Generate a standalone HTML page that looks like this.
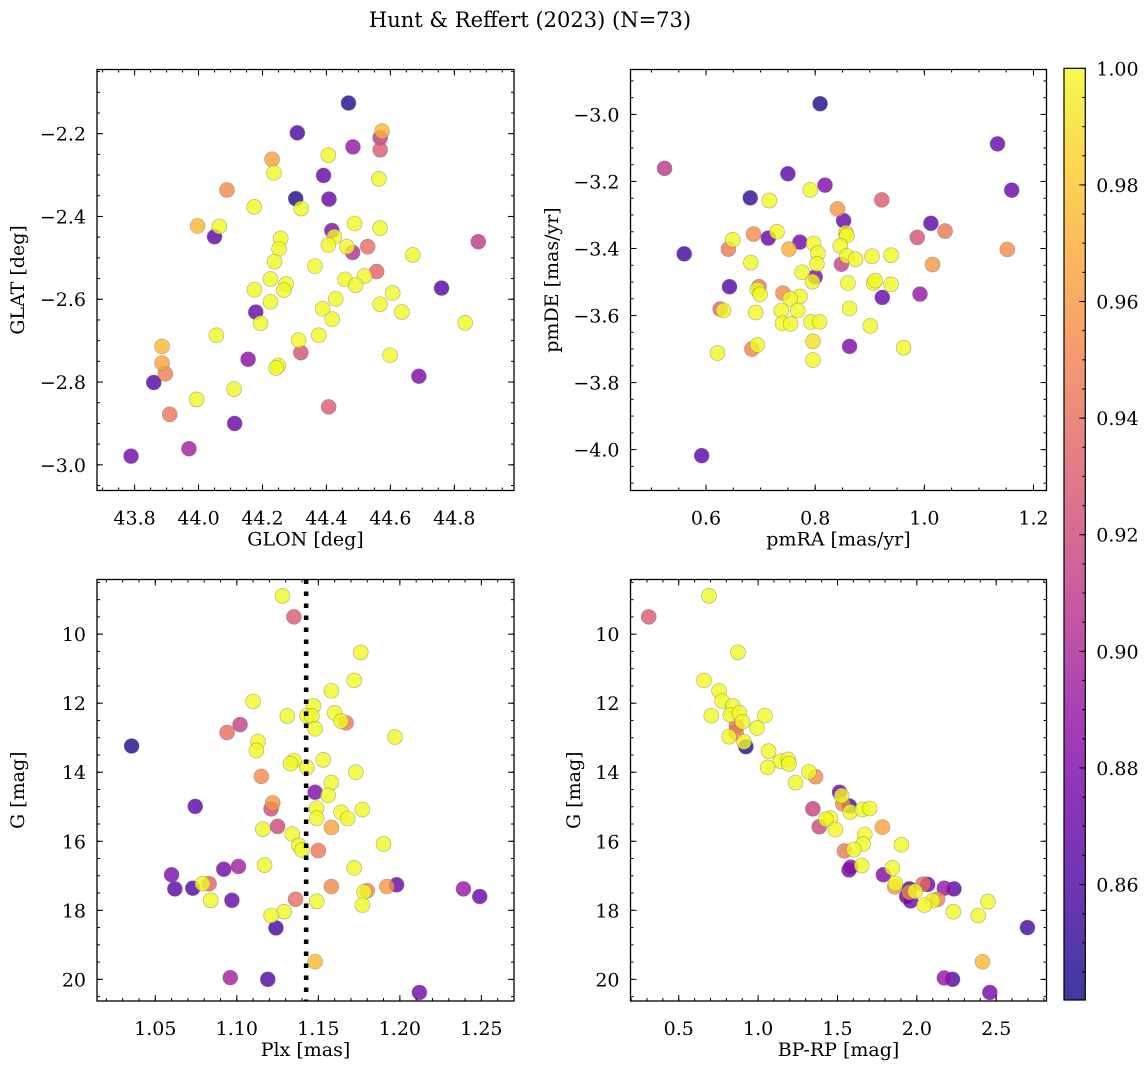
<!DOCTYPE html>
<html><head><meta charset="utf-8">
<style>
html,body{margin:0;padding:0;background:#fff;}
svg text{font-family:"DejaVu Serif","Liberation Serif",serif;fill:#000;}
</style></head>
<body>
<svg id="fig" width="1148" height="1068" viewBox="0 0 1148 1068" xmlns="http://www.w3.org/2000/svg">
<text x="530" y="27" font-size="21" text-anchor="middle">Hunt &amp; Reffert (2023) (N=73)</text>
</svg>
<script>
// ---- Panel 1: GLON / GLAT ----
const glonVals=[44.469,44.309,44.574,44.568,44.568,44.483,44.230,44.236,44.406,44.391,44.564,44.089,44.304,44.408,44.321,44.174,43.997,44.065,44.05,44.488,44.568,44.417,44.425,44.406,44.464,44.482,44.529,44.875,44.257,44.252,44.238,44.670,44.364,44.557,44.458,44.519,44.491,44.225,44.274,44.267,44.175,44.760,44.607,44.429,44.225,44.388,44.568,44.636,44.179,44.194,44.418,44.834,44.056,44.376,44.313,43.886,44.32,44.155,43.886,44.25,44.243,44.599,43.896,43.860,44.689,44.111,43.994,44.407,43.910,44.113,43.970,43.789];
const glatVals=[-2.126,-2.198,-2.194,-2.210,-2.239,-2.232,-2.262,-2.295,-2.252,-2.301,-2.309,-2.336,-2.357,-2.358,-2.381,-2.377,-2.423,-2.424,-2.449,-2.417,-2.428,-2.434,-2.449,-2.469,-2.473,-2.487,-2.473,-2.461,-2.453,-2.478,-2.509,-2.493,-2.520,-2.533,-2.552,-2.544,-2.566,-2.551,-2.563,-2.578,-2.577,-2.573,-2.585,-2.599,-2.606,-2.623,-2.612,-2.631,-2.631,-2.658,-2.648,-2.657,-2.687,-2.687,-2.699,-2.714,-2.729,-2.745,-2.754,-2.760,-2.766,-2.735,-2.780,-2.801,-2.786,-2.817,-2.842,-2.860,-2.878,-2.900,-2.961,-2.979];
const p1Prob=[0.845,0.86,0.975,0.91,0.93,0.89,0.965,1,1,0.87,1,0.955,0.845,0.87,1,1,0.975,1,0.865,1,1,0.88,1,1,1,0.905,0.94,0.91,1,1,1,1,1,0.935,1,1,1,1,1,1,1,0.86,1,1,1,1,1,1,0.87,1,1,1,1,1,1,0.975,0.925,0.885,0.965,1,1,1,0.95,0.86,0.88,1,1,0.93,0.945,0.87,0.895,0.875];
const p1XTicks=[43.8,44.0,44.2,44.4,44.6,44.8];
const p1YTicks=[-2.2,-2.4,-2.6,-2.8,-3.0];

// ---- Panel 2: pmRA / pmDE ----
const pmraVals=[0.809,0.524,1.134,1.160,0.750,0.818,0.681,0.791,0.716,0.922,0.841,0.852,1.012,1.038,0.987,0.560,0.687,0.649,0.714,0.730,0.641,0.752,0.772,0.797,0.805,0.856,0.858,0.846,0.858,0.874,0.904,0.939,0.848,0.803,1.152,1.015,0.682,0.776,0.800,0.795,0.860,0.907,0.910,0.939,0.643,0.697,0.694,0.699,0.741,0.772,0.754,0.923,0.992,0.626,0.632,0.691,0.738,0.768,0.863,0.740,0.755,0.792,0.808,0.901,0.796,0.863,0.684,0.694,0.962,0.621,0.796,0.592];
const pmdeVals=[-2.968,-3.161,-3.088,-3.226,-3.177,-3.211,-3.249,-3.225,-3.257,-3.255,-3.282,-3.317,-3.325,-3.348,-3.367,-3.416,-3.357,-3.374,-3.369,-3.350,-3.402,-3.402,-3.381,-3.385,-3.414,-3.353,-3.361,-3.392,-3.422,-3.432,-3.423,-3.420,-3.447,-3.446,-3.403,-3.448,-3.442,-3.471,-3.485,-3.499,-3.503,-3.503,-3.496,-3.507,-3.514,-3.514,-3.523,-3.537,-3.533,-3.543,-3.550,-3.546,-3.536,-3.581,-3.585,-3.591,-3.585,-3.585,-3.579,-3.623,-3.625,-3.619,-3.619,-3.631,-3.677,-3.692,-3.700,-3.688,-3.696,-3.712,-3.733,-4.018];
const p2Prob=[0.845,0.91,0.87,0.87,0.865,0.88,0.85,1,1,0.93,0.96,0.87,0.865,0.945,0.925,0.855,0.955,1,0.87,1,0.945,0.97,0.875,1,1,0.99,1,1,1,1,1,1,0.915,1,0.955,0.96,1,1,0.88,1,1,1,1,1,0.86,0.945,1,1,0.955,1,1,0.87,0.89,0.935,1,1,1,1,1,1,1,1,1,1,0.99,0.88,0.95,1,1,1,1,0.865];
const p2XTicks=[0.6,0.8,1.0,1.2];
const p2YTicks=[-3.0,-3.2,-3.4,-3.6,-3.8,-4.0];

// ---- Panel 3: Plx / G ----
const plxVals=[1.128,1.135,1.176,1.172,1.158,1.110,1.147,1.131,1.143,1.146,1.160,1.167,1.164,1.148,1.102,1.094,1.197,1.113,1.112,1.0355,1.135,1.133,1.153,1.143,1.173,1.115,1.158,1.148,1.156,1.0745,1.122,1.121,1.149,1.177,1.164,1.168,1.149,1.125,1.158,1.116,1.134,1.138,1.140,1.150,1.190,1.117,1.172,1.101,1.092,1.060,1.062,1.073,1.083,1.079,1.158,1.192,1.198,1.180,1.178,1.239,1.249,1.084,1.097,1.136,1.149,1.177,1.129,1.121,1.124,1.148,1.096,1.119,1.212];
const gPlxVals=[8.89,9.50,10.53,11.34,11.64,11.95,12.08,12.37,12.36,12.37,12.28,12.57,12.52,12.74,12.62,12.85,12.98,13.11,13.37,13.24,13.66,13.75,13.64,13.86,14.00,14.12,14.30,14.58,14.67,14.99,14.89,15.06,15.04,15.08,15.16,15.34,15.33,15.57,15.60,15.65,15.79,16.12,16.25,16.27,16.08,16.69,16.77,16.73,16.81,16.97,17.38,17.36,17.23,17.23,17.31,17.31,17.26,17.43,17.47,17.38,17.60,17.71,17.71,17.68,17.74,17.85,18.04,18.15,18.51,19.49,19.95,20.00,20.38];
const p3Prob=[1,0.93,1,1,1,1,1,1,1,1,1,0.945,1,1,0.915,0.94,1,1,1,0.845,1,1,1,1,1,0.955,1,0.88,1,0.865,0.96,0.92,1,1,1,1,1,0.92,0.965,1,1,1,1,0.945,1,1,1,0.895,0.875,0.88,0.865,0.86,0.935,1,0.955,0.96,0.87,0.95,1,0.89,0.87,1,0.87,0.94,1,1,1,1,0.855,0.975,0.895,0.86,0.875];
const plxRef=[1.1425];
const p3XTicks=[1.05,1.10,1.15,1.20,1.25];
const gTicks=[10,12,14,16,18,20];

// ---- Panel 4: BP-RP / G ----
const bprpVals=[0.691,0.311,0.873,0.659,0.754,0.773,0.840,0.705,0.825,0.882,0.902,1.043,0.863,0.861,0.993,0.817,0.923,0.911,1.066,1.141,1.190,1.194,1.060,1.320,1.362,1.236,1.513,1.527,1.534,1.575,1.580,1.657,1.703,1.345,1.456,1.427,1.487,1.385,1.783,1.672,1.661,1.903,1.544,1.603,1.653,1.584,1.573,1.846,1.789,1.861,1.865,1.953,2.039,2.068,2.173,2.234,1.953,1.989,1.936,1.961,2.131,2.100,2.047,2.448,2.230,2.387,2.697,2.414,2.173,2.225,2.460];
const gCmdVals=[8.89,9.50,10.53,11.34,11.64,11.94,12.08,12.36,12.34,12.28,12.54,12.36,12.66,12.85,12.72,12.97,13.26,13.12,13.39,13.68,13.63,13.76,13.86,13.99,14.13,14.30,14.58,14.68,14.92,14.98,15.15,15.08,15.05,15.06,15.33,15.36,15.66,15.58,15.59,15.80,16.08,16.10,16.28,16.24,16.70,16.75,16.83,16.77,16.97,17.32,17.22,17.38,17.24,17.25,17.36,17.38,17.48,17.45,17.60,17.73,17.68,17.72,17.85,17.75,18.04,18.15,18.50,19.49,19.96,20.00,20.38];
const p4Prob=[1,0.93,1,1,1,1,1,1,1,1,1,1,0.94,0.945,1,1,0.845,1,1,1,1,1,1,1,0.955,1,0.87,1,0.955,0.86,1,1,1,0.915,1,1,1,0.92,0.965,1,1,1,0.945,1,1,0.885,0.87,1,0.88,0.96,1,0.86,0.94,0.87,0.89,0.865,0.955,1,0.87,0.875,0.95,1,1,1,1,1,0.855,0.975,0.89,0.86,0.875];
const p4XTicks=[0.5,1.0,1.5,2.0,2.5];

const cbTicks=[1.00,0.98,0.96,0.94,0.92,0.90,0.88,0.86];

const VMIN=0.8402, VMAX=1.0;
const FS=19;
const NS="http://www.w3.org/2000/svg";
const svg=document.getElementById('fig');
const plasma=[[13,8,135],[65,4,157],[106,0,168],[143,13,164],[177,42,144],[204,71,120],[225,100,98],[242,132,75],[252,166,54],[252,206,37],[240,249,33]];
function cmap(v){let t=(v-VMIN)/(VMAX-VMIN);t=Math.max(0,Math.min(1,t));const f=t*10,i=Math.min(9,Math.floor(f)),r=f-i;const a=plasma[i],b=plasma[i+1];return 'rgb('+a.map((c,k)=>Math.round(c+(b[k]-c)*r)).join(',')+')';}
function el(tag,attrs,parent){const e=document.createElementNS(NS,tag);for(const k in attrs)e.setAttribute(k,attrs[k]);(parent||svg).appendChild(e);return e;}
function fmt(v,d){return v.toFixed(d).replace('-','\u2212');}

function panel(o){
  const g=el('g',{});
  
  
  const sx=v=>o.L+(v-o.x0)/(o.x1-o.x0)*(o.R-o.L);
  const sy=v=>o.T+(v-o.y0)/(o.y1-o.y0)*(o.B-o.T);
  const clipId='clip-'+o.name;
  const cp=el('clipPath',{id:clipId},g);
  el('rect',{x:o.L,y:o.T,width:o.R-o.L,height:o.B-o.T},cp);
  const marks=el('g',{'clip-path':'url(#'+clipId+')'},g);
  
  
  const idx=o.xs.map((_,i)=>i).sort((a,b)=>o.ps[a]-o.ps[b]);
  idx.forEach(i=>{
    const c=el('circle',{cx:sx(o.xs[i]),cy:sy(o.ys[i]),r:7.5,fill:cmap(o.ps[i]),'fill-opacity':0.8,stroke:'#777','stroke-opacity':0.6,'stroke-width':0.6},marks);
    
    
  });
  if(o.vline){
    o.vline.forEach(v=>{
      const ln=el('line',{x1:sx(v),x2:sx(v),y1:o.T,y2:o.B,stroke:'#000','stroke-width':4.5,'stroke-dasharray':'4.5 7.5'},g);
      
      
    });
  }
  const ax=el('g',{stroke:'#000','stroke-width':1},g);
  for(let v=Math.ceil(Math.min(o.x0,o.x1)/o.xmin-1e-6)*o.xmin; v<=Math.max(o.x0,o.x1)+1e-9; v+=o.xmin){
    const x=sx(v);
    el('line',{x1:x,x2:x,y1:o.B,y2:o.B-3},ax);el('line',{x1:x,x2:x,y1:o.T,y2:o.T+3},ax);
  }
  for(let v=Math.ceil(Math.min(o.y0,o.y1)/o.ymin-1e-6)*o.ymin; v<=Math.max(o.y0,o.y1)+1e-9; v+=o.ymin){
    const y=sy(v);
    el('line',{x1:o.L,x2:o.L+3,y1:y,y2:y},ax);el('line',{x1:o.R,x2:o.R-3,y1:y,y2:y},ax);
  }
  o.xt.forEach(v=>{
    const x=sx(v);
    el('line',{x1:x,x2:x,y1:o.B,y2:o.B-6},ax);el('line',{x1:x,x2:x,y1:o.T,y2:o.T+6},ax);
    const t=el('text',{x:x,y:o.B+34,'font-size':FS,'text-anchor':'middle'},g);t.textContent=fmt(v,o.xd);
    
    
  });
  o.yt.forEach(v=>{
    const y=sy(v);
    el('line',{x1:o.L,x2:o.L+6,y1:y,y2:y},ax);el('line',{x1:o.R,x2:o.R-6,y1:y,y2:y},ax);
    const t=el('text',{x:o.L-11,y:y+7,'font-size':FS,'text-anchor':'end'},g);t.textContent=fmt(v,o.yd);
    
    
  });
  const fr=el('rect',{x:o.L,y:o.T,width:o.R-o.L,height:o.B-o.T,fill:'none',stroke:'#000','stroke-width':1.3},g);
  
  
  const xl=el('text',{x:(o.L+o.R)/2,y:o.B+55,'font-size':FS,'text-anchor':'middle'},g);xl.textContent=o.xlab;
  
  
  const yx=o.ylx,yy=(o.T+o.B)/2;
  const yl=el('text',{x:yx,y:yy,'font-size':FS,'text-anchor':'middle',transform:'rotate(-90 '+yx+' '+yy+')'},g);yl.textContent=o.ylab;
  
  
}

panel({name:'glon-glat-panel',L:97,R:514,T:69.5,B:490.5,x0:43.6825,x1:44.9866,y0:-2.045,y1:-3.062,xs:glonVals,ys:glatVals,ps:p1Prob,xt:p1XTicks,yt:p1YTicks,xmin:0.05,ymin:0.05,xd:1,yd:1,xlab:'GLON [deg]',ylab:'GLAT [deg]',ylx:24});
panel({name:'proper-motion-panel',L:630.5,R:1046.5,T:69.5,B:490.5,x0:0.4616,x1:1.2238,y0:-2.866,y1:-4.122,xs:pmraVals,ys:pmdeVals,ps:p2Prob,xt:p2XTicks,yt:p2YTicks,xmin:0.05,ymin:0.05,xd:1,yd:1,xlab:'pmRA [mas/yr]',ylab:'pmDE [mas/yr]',ylx:558});
panel({name:'parallax-mag-panel',L:97,R:514,T:579.5,B:1001,x0:1.01425,x1:1.270,y0:8.417,y1:20.627,xs:plxVals,ys:gPlxVals,ps:p3Prob,xt:p3XTicks,yt:gTicks,xmin:0.01,ymin:0.5,xd:2,yd:0,xlab:'Plx [mas]',ylab:'G [mag]',ylx:24,vline:plxRef});
panel({name:'cmd-panel',L:630.5,R:1046.5,T:579.5,B:1001,x0:0.196,x1:2.817,y0:8.417,y1:20.627,xs:bprpVals,ys:gCmdVals,ps:p4Prob,xt:p4XTicks,yt:gTicks,xmin:0.1,ymin:0.5,xd:1,yd:0,xlab:'BP-RP [mag]',ylab:'G [mag]',ylx:580});

(function(){
  const L=1064,R=1085.3,T=68.3,B=1000;
  const g=el('g',{});
  
  
  const defs=el('defs',{},g);
  const lg=el('linearGradient',{id:'cbgrad',x1:0,y1:1,x2:0,y2:0},defs);
  plasma.forEach((c,i)=>el('stop',{offset:i/10,'stop-color':'rgb('+c.join(',')+')'},lg));
  el('rect',{x:L,y:T,width:R-L,height:B-T,fill:'url(#cbgrad)','fill-opacity':0.8},g);
  const sy=v=>T+(VMAX-v)/(VMAX-VMIN)*(B-T);
  for(let v=0.845;v<1.0;v+=0.005){const y=sy(v);el('line',{x1:R,x2:R-3,y1:y,y2:y,stroke:'#000'},g);}
  cbTicks.forEach(v=>{
    const y=sy(v);
    el('line',{x1:R,x2:R-6,y1:y,y2:y,stroke:'#000'},g);
    const t=el('text',{x:R+11,y:y+7,'font-size':FS},g);t.textContent=v.toFixed(2);
    
    
  });
  el('rect',{x:L,y:T,width:R-L,height:B-T,fill:'none',stroke:'#000','stroke-width':1.2},g);
})();
</script>
</body></html>
